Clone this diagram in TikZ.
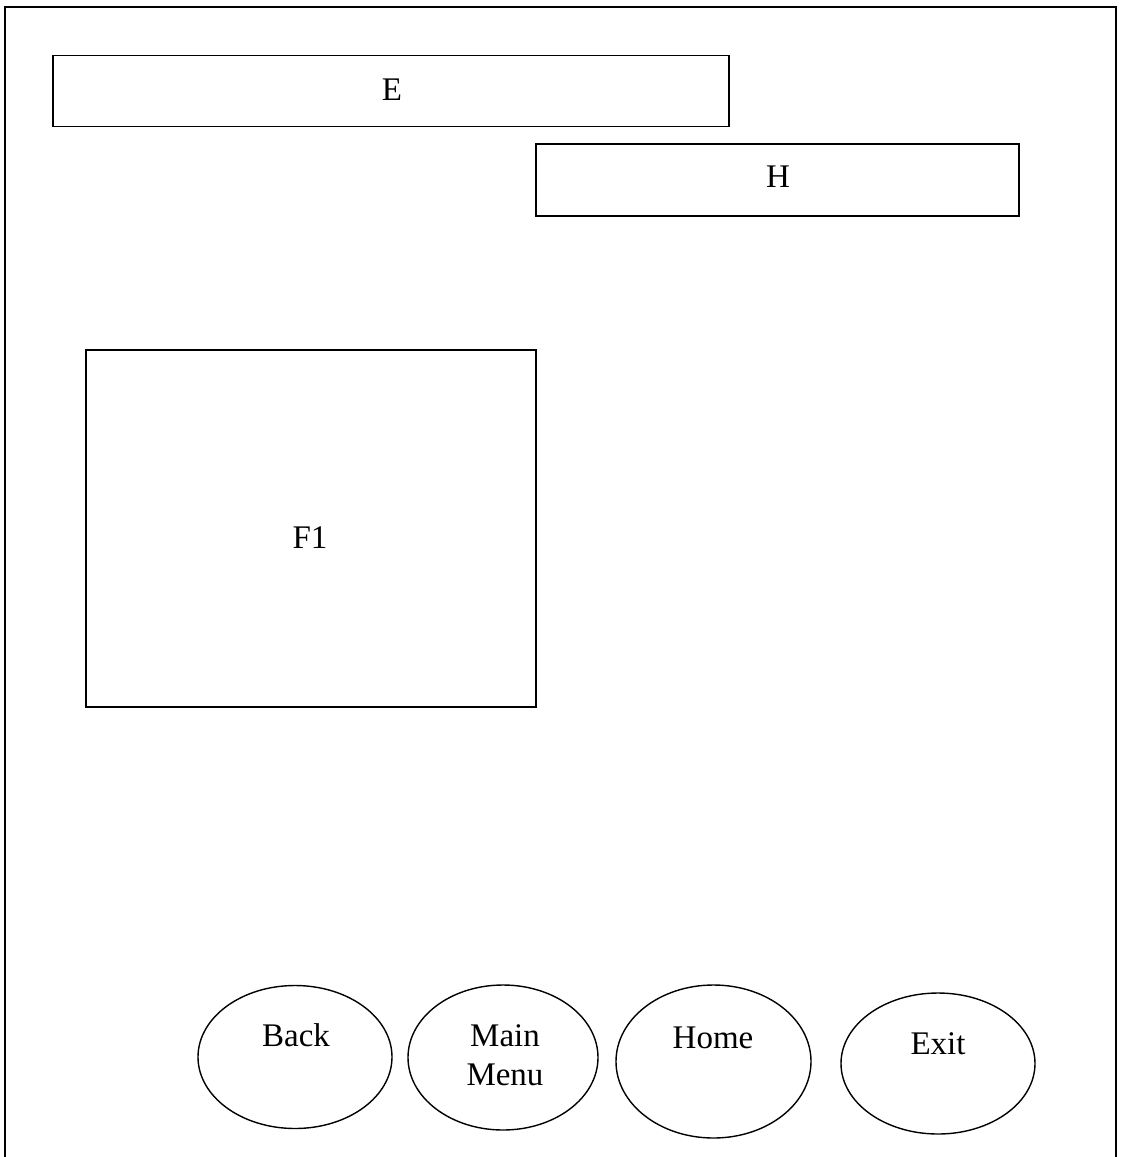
\documentclass[tikz,border=0pt]{standalone}
\usepackage{fontspec}
\setmainfont{Liberation Serif}
\usetikzlibrary{shapes.geometric}
\tikzset{
  box/.style={draw, line width=1.7pt, rectangle, inner sep=0pt},
  btn/.style={draw, line width=1.4pt, ellipse, inner sep=0pt},
  lbl/.style={font=\fontsize{33}{39}\selectfont, inner sep=0pt, align=center},
}
\begin{document}
\begin{tikzpicture}[x=1pt,y=-1pt]
\useasboundingbox (0,0) rectangle (1122,1157);
% outer frame
\coordinate (fbl) at (5,1160);
\coordinate (ftl) at (5,7);
\coordinate (ftr) at (1116,7);
\coordinate (fbr) at (1116,1160);
\draw[line width=2pt] (fbl) -- (ftl) -- (ftr) -- (fbr);
% boxes
\node[box, minimum width=676pt, minimum height=71pt] (E) at (391,91) {};
\node[lbl] (Et) at (392,90) {E};
\node[box, minimum width=483pt, minimum height=72pt] (H) at (777.5,180) {};
\node[lbl] (Ht) at (778,177) {H};
\node[box, minimum width=450pt, minimum height=357pt] (F1) at (311,528.5) {};
\node[lbl] (F1t) at (310,538) {F1};
% buttons
\node[btn, minimum width=194pt, minimum height=143pt] (back) at (295,1057) {};
\node[lbl] (backt) at (296,1035) {Back};
\node[btn, minimum width=190pt, minimum height=145pt] (menu) at (503,1057.5) {};
\node[lbl] (menut) at (505,1055) {Main\\Menu};
\node[btn, minimum width=195pt, minimum height=153pt] (home) at (713.5,1061.5) {};
\node[lbl] (homet) at (713,1038) {Home};
\node[btn, minimum width=194pt, minimum height=141pt] (exit) at (938,1063.5) {};
\node[lbl] (exitt) at (938,1044) {Exit};
\end{tikzpicture}
\end{document}
